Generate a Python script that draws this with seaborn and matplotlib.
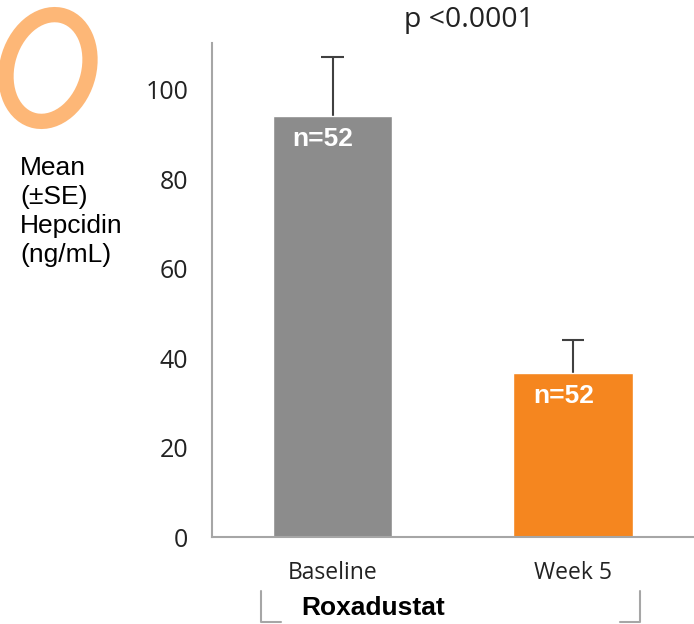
import matplotlib
matplotlib.use("Agg")
import matplotlib.pyplot as plt
from matplotlib.patches import Ellipse
from matplotlib.lines import Line2D
import seaborn as sns
import pandas as pd

# Hepcidin before and after roxadustat
timepoints = ["Baseline", "Week 5"]
mean_hepcidin = [94.2, 36.7]
se_hepcidin = [13.2, 7.4]
n_labels = ["n=52", "n=52"]
bar_colors = ["#8C8C8C", "#F5861F"]
y_ticks = [0, 20, 40, 60, 80, 100]

df = pd.DataFrame({"timepoint": timepoints, "hepcidin": mean_hepcidin})

sns.set_style("white")
plt.rcParams["font.family"] = ["Liberation Sans", "DejaVu Sans"]

fig = plt.figure(figsize=(6.94, 6.24), dpi=100)
ax = fig.add_axes([0.3055, 0.1394, 0.6945, 0.7917])

sns.barplot(data=df, x="timepoint", y="hepcidin", hue="timepoint",
            palette=bar_colors, width=0.495, errorbar=None, legend=False,
            saturation=1, ax=ax, zorder=2)

# upper standard-error whiskers with a single cap
xs = list(range(len(timepoints)))
tops = [m + s for m, s in zip(mean_hepcidin, se_hepcidin)]
ax.vlines(xs, mean_hepcidin, tops, color="#404040", lw=1.5, zorder=1)
ax.hlines(tops, [x - 0.046 for x in xs], [x + 0.046 for x in xs],
          color="#404040", lw=1.5, zorder=1)

for i, (m, lab) in enumerate(zip(mean_hepcidin, n_labels)):
    ax.text(i - 0.04, m - 5.2, lab, color="white", fontweight="bold",
            fontsize=19, ha="center", va="center")

ax.set_xlim(-0.501, 1.503)
ax.set_ylim(0, 110.5)
ax.set_yticks(y_ticks)
ax.set_yticklabels([str(t) for t in y_ticks], fontfamily="Open Sans",
                   fontsize=18, color="#222222")
ax.set_xticks(xs)
ax.set_xticklabels(timepoints, fontfamily="Open Sans", fontsize=16.5,
                   color="#222222")
ax.tick_params(axis="y", length=0, pad=17)
ax.tick_params(axis="x", length=0, pad=17)
ax.set_xlabel("")
ax.set_ylabel("")
for side in ["top", "right"]:
    ax.spines[side].set_visible(False)
for side in ["left", "bottom"]:
    ax.spines[side].set_color("#A6A6A6")
    ax.spines[side].set_linewidth(1.5)

# axis label to the left
fig.text(20 / 694, 1 - 156 / 624, "Mean\n(±SE)\nHepcidin\n(ng/mL)",
         fontsize=19, ha="left", va="top", linespacing=1.26, color="black")

# significance
fig.text(469 / 694, 1 - 20 / 624, "p <0.0001", fontfamily="Open Sans",
         fontsize=20.5, ha="center", va="center", color="#222222")

# treatment bracket
fig.add_artist(Line2D([261 / 694, 261 / 694, 281 / 694],
                      [1 - 591 / 624, 1 - 622 / 624, 1 - 622 / 624],
                      color="#A6A6A6", lw=1.5))
fig.add_artist(Line2D([620 / 694, 640 / 694, 640 / 694],
                      [1 - 622 / 624, 1 - 622 / 624, 1 - 591 / 624],
                      color="#A6A6A6", lw=1.5))
fig.text(373.5 / 694, 1 - 608 / 624, "Roxadustat", fontsize=19,
         fontweight="bold", ha="center", va="center", color="black")

# decorative ring
fig.add_artist(Ellipse((48 / 694, 1 - 68 / 624), 82 / 694, 108 / 624,
                       angle=-12, fill=False, edgecolor="#FDB777", lw=11,
                       transform=fig.transFigure))

fig.savefig("out.png", dpi=100)
